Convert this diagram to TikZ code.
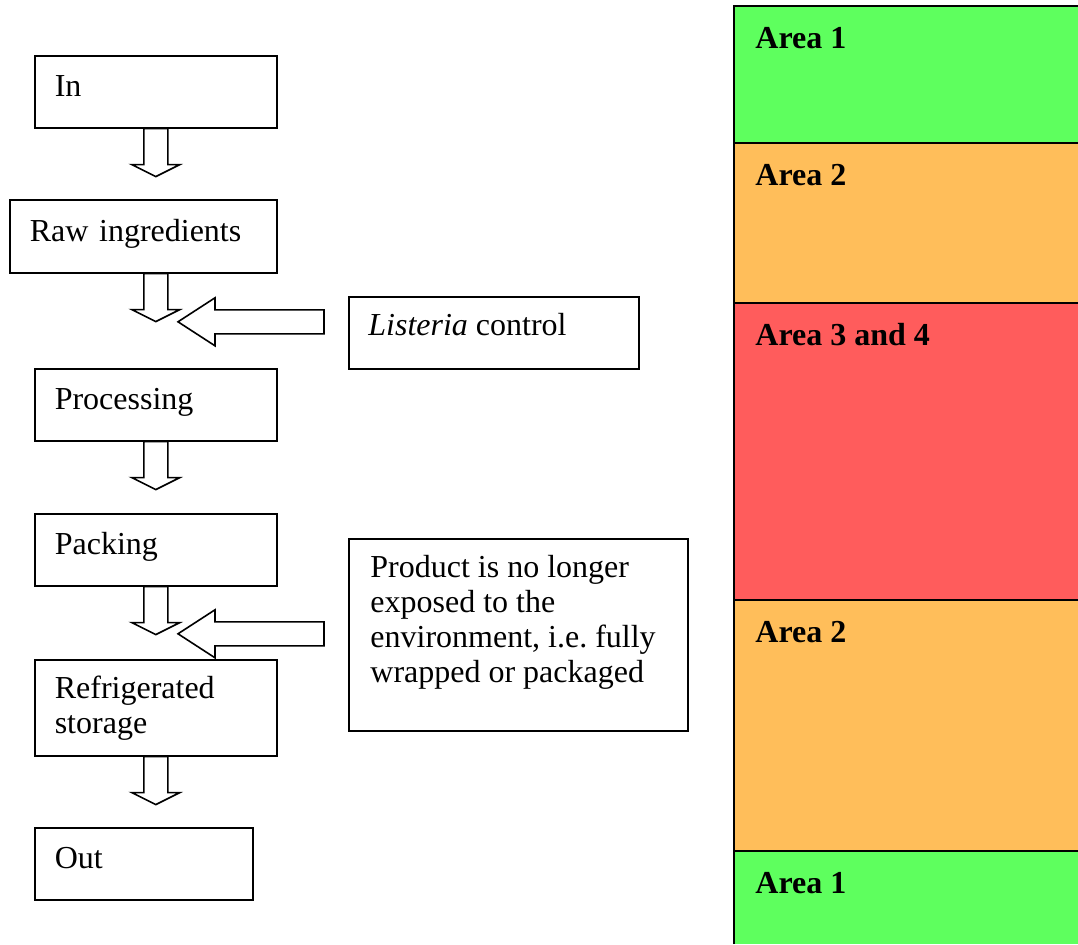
\documentclass[tikz,border=0pt]{standalone}
\usepackage{fontspec}
\setmainfont{Liberation Serif}
\usetikzlibrary{calc}
\frenchspacing
\definecolor{areagreen}{RGB}{94,255,94}
\definecolor{areaorange}{RGB}{255,190,90}
\definecolor{areared}{RGB}{255,92,92}
\tikzset{
  flowbox/.style={draw, line width=0.8pt, fill=white, anchor=north west,
    align=left, inner xsep=10pt, inner ysep=0pt,
    font=\fontsize{16}{17.5}\selectfont},
  oneline/.style={text height=11pt, text depth=6pt},
  notebox/.style={draw, line width=0.8pt, fill=white, anchor=north west, inner sep=0pt},
  notetext/.style={anchor=north west, align=left, inner xsep=10pt, inner ysep=8.5pt,
    font=\fontsize{16}{17.5}\selectfont},
  blockarrow/.style={draw, line width=0.8pt, fill=white, line join=miter},
  arealabel/.style={anchor=base west, inner sep=0pt,
    font=\bfseries\fontsize{16}{18}\selectfont}
}
% hollow arrow pointing down, #1 = top centre
\newcommand{\blockdown}[1]{%
  \draw[blockarrow] (#1) ++(-12,0) -- ++(0,36) -- ++(-12,0) -- ++(24,12)
    -- ++(24,-12) -- ++(-12,0) -- ++(0,-36) -- cycle;}
% hollow arrow pointing left, #1 = tip
\newcommand{\blockleft}[1]{%
  \draw[blockarrow] (#1) -- ++(37,-24) -- ++(0,12) -- ++(109,0) -- ++(0,24)
    -- ++(-109,0) -- ++(0,12) -- cycle;}
\begin{document}
\begin{tikzpicture}[x=0.5pt,y=-0.5pt]
  \useasboundingbox (0,0) rectangle (1078,944);

  % hygiene areas
  \foreach \ya/\yb/\col/\nm/\txt in {6/143/areagreen/a/Area 1,
      143/303/areaorange/b/Area 2, 303/600/areared/c/Area 3 and 4,
      600/851/areaorange/d/Area 2, 851/944/areagreen/e/Area 1}{
    \fill[\col] (734,\ya) rectangle (1078,\yb);
    \node[arealabel] (area\nm) at (755,\ya+42) {\txt};
  }
  \draw[line width=0.8pt] (734,944) -- (734,6) -- (1078,6);
  \foreach \y in {143,303,600,851}
    \draw[line width=0.8pt] (734,\y) -- (1078,\y);

  % process steps
  \node[flowbox, oneline, text width=101pt, minimum height=36pt] (in) at (34,55) {In};
  \node[flowbox, oneline, text width=113.5pt, minimum height=36.5pt] (raw) at (9,199) {Raw ingredients};
  \node[flowbox, oneline, text width=101pt, minimum height=36pt] (proc) at (34,368) {Processing};
  \node[flowbox, oneline, text width=101pt, minimum height=36pt] (pack) at (34,513) {Packing};
  \node[flowbox, text width=101pt, minimum height=48pt] (fridge) at (34,659) {Refrigerated\\storage};
  \node[flowbox, oneline, text width=89pt, minimum height=36pt] (out) at (34,827) {Out};

  % notes
  \node[notebox, minimum width=145pt, minimum height=36pt] (listeria) at (348,296) {};
  \node[notetext] (listeriatxt) at (listeria.north west) {\emph{Listeria} control};
  \node[notebox, minimum width=169.5pt, minimum height=96pt] (product) at (348,538) {};
  \node[notetext, inner xsep=11pt] (producttxt) at (product.north west)
    {Product is no longer\\exposed to the\\environment, i.e. fully\\wrapped or packaged};

  % arrows
  \blockdown{in.south}
  \blockdown{raw.south -| in.south}
  \blockdown{proc.south}
  \blockdown{pack.south}
  \blockdown{fridge.south}
  \coordinate (tipa) at ($(listeria.west)+(-170,-11)$);
  \coordinate (tipb) at ($(product.west)+(-170,-1)$);
  \blockleft{tipa}
  \blockleft{tipb}
\end{tikzpicture}
\end{document}
